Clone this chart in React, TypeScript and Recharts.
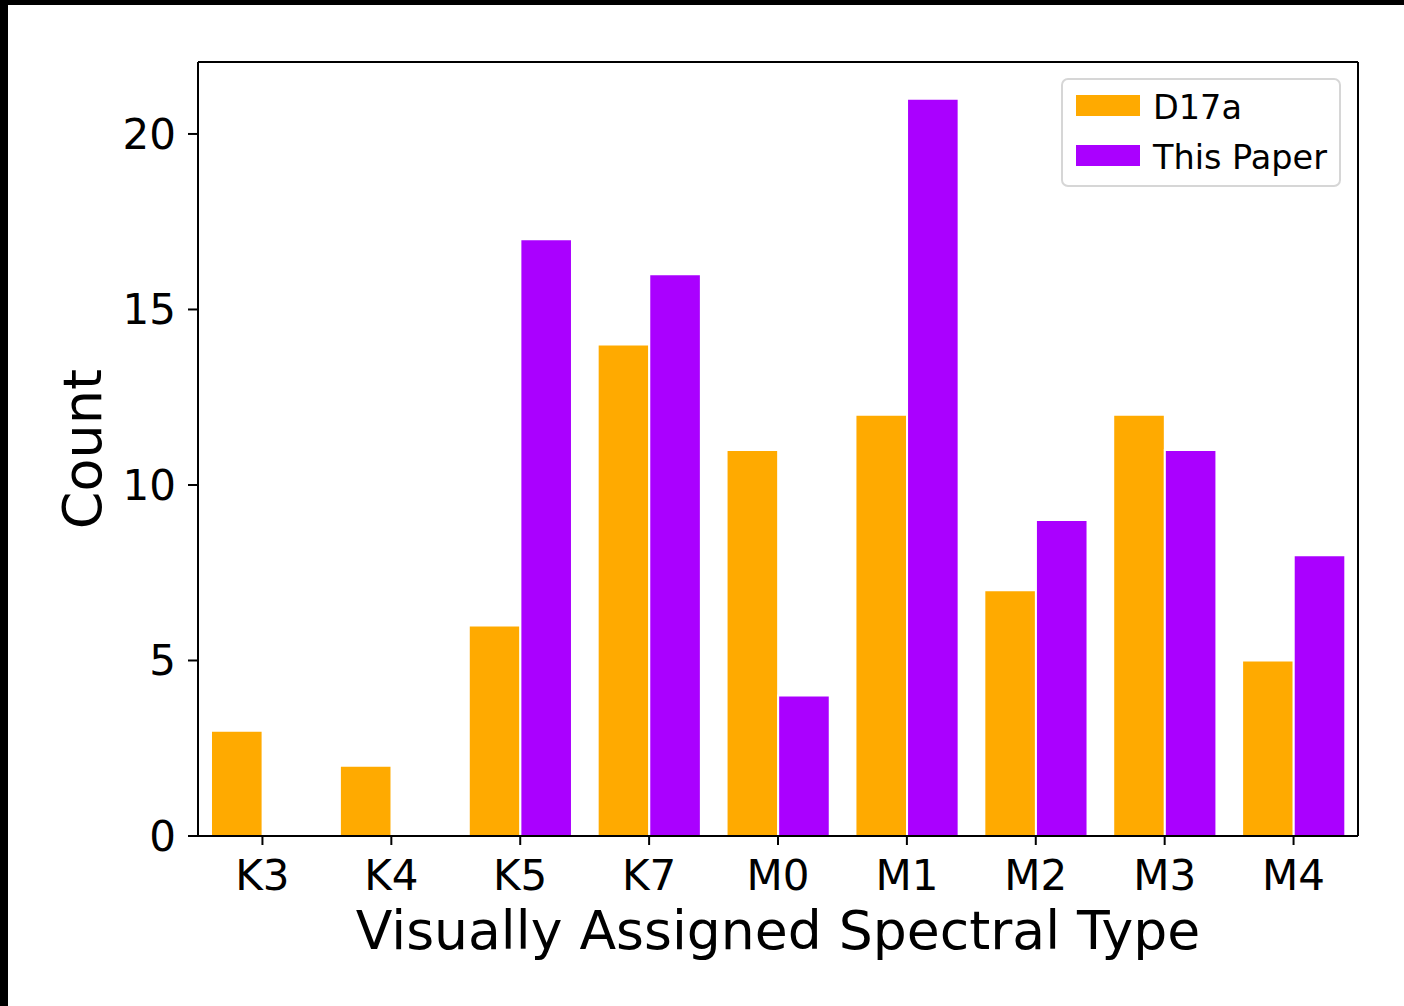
import React from 'react';
import { BarChart, Bar, XAxis, YAxis, Legend, Label } from 'recharts';

const spectralTypes = ['K3', 'K4', 'K5', 'K7', 'M0', 'M1', 'M2', 'M3', 'M4'];
const d17aCounts = [3, 2, 6, 14, 11, 12, 7, 12, 5];
const thisPaperCounts = [0, 0, 17, 16, 4, 21, 9, 11, 8];
const yTicks = [0, 5, 10, 15, 20];

const ORANGE = '#ffaa00';
const PURPLE = '#aa00ff';
const FONT = '"DejaVu Sans", sans-serif';

const data = spectralTypes.map((type, i) => ({
  type,
  d17a: d17aCounts[i],
  thisPaper: thisPaperCounts[i],
}));

const legendItems = [
  { label: 'D17a', color: ORANGE },
  { label: 'This Paper', color: PURPLE },
];

function LegendBox() {
  return (
    <div
      style={{
        width: 276,
        height: 105,
        border: '2px solid #d6d6d6',
        borderRadius: 7,
        background: 'rgba(255,255,255,0.8)',
        fontFamily: FONT,
        fontSize: 33.5,
        color: '#000',
        boxSizing: 'content-box',
      }}
    >
      {legendItems.map((item, i) => (
        <div
          key={item.label}
          style={{ position: 'absolute', left: 15, top: 17 + i * 50, display: 'flex', alignItems: 'center' }}
        >
          <div style={{ width: 64, height: 21, background: item.color }} />
          <span style={{ marginLeft: 13, lineHeight: '21px', position: 'relative', top: 2 }}>{item.label}</span>
        </div>
      ))}
    </div>
  );
}

function CountLabel(props: any) {
  const vb = props.viewBox || { x: 0, y: 0, width: 0, height: 0 };
  const cx = 101;
  const cy = vb.y + vb.height / 2;
  return (
    <text
      x={cx}
      y={cy}
      transform={`rotate(-90 ${cx} ${cy})`}
      textAnchor="middle"
      fontFamily={FONT}
      fontSize={54}
      fill="#000"
    >
      Count
    </text>
  );
}

export default function App() {
  return (
    <div style={{ position: 'absolute', left: 0, top: 0, width: 1404, height: 1006, background: '#000' }}>
      <div style={{ position: 'absolute', left: 8, top: 5, width: 1396, height: 1001, background: '#fff' }} />
      <div style={{ position: 'absolute', left: 0, top: 0 }}>
        <BarChart
          width={1404}
          height={1006}
          data={data}
          margin={{ top: 61, right: 45, bottom: 100, left: 88 }}
          barGap={0}
          barSize={51.6}
        >
          <XAxis
            dataKey="type"
            stroke="#000"
            strokeWidth={2}
            tickSize={9}
            tickMargin={15}
            height={70}
            tick={{ fontFamily: FONT, fontSize: 42, fill: '#000' }}
            tickLine={{ stroke: '#000', strokeWidth: 2 }}
          >
            <Label
              value="Visually Assigned Spectral Type"
              position="bottom"
              offset={5}
              style={{ fontFamily: FONT, fontSize: 53.6, fill: '#000' }}
            />
          </XAxis>
          {/* top and right spines */}
          <XAxis xAxisId="top" dataKey="type" orientation="top" height={1} tick={false} tickLine={false} stroke="#000" strokeWidth={2} />
          <YAxis
            domain={[0, 22.05]}
            ticks={yTicks}
            stroke="#000"
            strokeWidth={2}
            width={110}
            tickSize={10}
            tickMargin={12}
            tick={{ fontFamily: FONT, fontSize: 42, fill: '#000' }}
            tickLine={{ stroke: '#000', strokeWidth: 2 }}
          >
            <Label content={CountLabel} />
          </YAxis>
          <YAxis yAxisId="right" orientation="right" width={1} tick={false} tickLine={false} stroke="#000" strokeWidth={2} domain={[0, 22.05]} />
          <Legend
            layout="vertical"
            align="center"
            verticalAlign="middle"
            content={() => <LegendBox />}
            wrapperStyle={{ position: 'absolute', left: 1061, top: 78, width: 280, height: 109 }}
          />
          <Bar dataKey="d17a" name="D17a" fill={ORANGE} stroke="#fff" strokeWidth={2} isAnimationActive={false} />
          <Bar dataKey="thisPaper" name="This Paper" fill={PURPLE} stroke="#fff" strokeWidth={2} isAnimationActive={false} />
        </BarChart>
      </div>
    </div>
  );
}
